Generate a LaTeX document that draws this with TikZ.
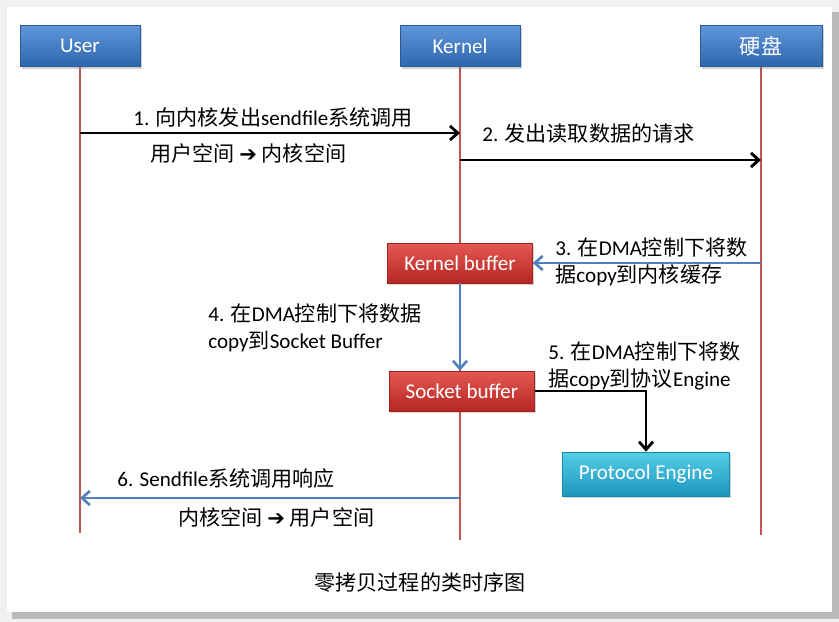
\documentclass[tikz,border=0pt]{standalone}
\usepackage{fontspec}
\setmainfont{Carlito}
\newfontfamily\zhfont{Noto Sans CJK SC}
\newfontfamily\symfont{DejaVu Sans}
\newcommand{\zh}[1]{{\zhfont #1}}
\newcommand{\toarr}{{\symfont ➔}}
\usetikzlibrary{arrows.meta,shadows}

\definecolor{headtop}{RGB}{96,150,218}
\definecolor{headbot}{RGB}{46,102,172}
\definecolor{buftop}{RGB}{228,88,82}
\definecolor{bufbot}{RGB}{182,38,36}
\definecolor{engtop}{RGB}{86,206,230}
\definecolor{engbot}{RGB}{28,150,192}
\definecolor{lifered}{RGB}{196,82,80}
\definecolor{dmablue}{RGB}{79,129,189}

\begin{document}
\begin{tikzpicture}[x=0.02cm,y=-0.02cm,
  font=\fontsize{12}{15}\selectfont,
  box/.style={minimum width=2.4cm,minimum height=0.82cm,text=white,
    draw=#1bot!90!black,top color=#1top,bottom color=#1bot,
    drop shadow={shadow xshift=1pt,shadow yshift=-1.2pt,opacity=0.35}},
  life/.style={draw=lifered,line width=1.5pt},
  call/.style={line width=1.6pt,-{Straight Barb[length=4.5pt,width=8pt]}},
  dma/.style={draw=dmablue,line width=1.5pt,-{Straight Barb[length=4.5pt,width=8pt]}},
  lbl/.style={anchor=west,align=left,inner sep=0pt}]
  \useasboundingbox (0,0) rectangle (839,622);
  \fill[gray!12] (0,0) rectangle (839,622);
  \fill[gray!55] (12,12) rectangle (839,619);
  \fill[white] (7,7) rectangle (832,612);

  \coordinate (userend) at (80,533);
  \coordinate (kernend) at (460,540);
  \coordinate (diskend) at (761,535);
  \draw[life] (80,67) -- (userend);
  \draw[life] (460,67) -- (kernend);
  \draw[life] (761,67) -- (diskend);

  \node[box=head] (user) at (80,46) {User};
  \node[box=head] (kern) at (460,46) {Kernel};
  \node[box=head,minimum width=2.44cm] (disk) at (761,46) {\zh{硬盘}};

  \node[box=buf,minimum width=2.9cm,minimum height=0.8cm] (kbuf) at (460,263) {Kernel buffer};
  \node[box=buf,minimum width=2.9cm,minimum height=0.8cm] (sbuf) at (462,391) {Socket buffer};
  \node[box=eng,minimum width=3.34cm,minimum height=0.88cm] (proto) at (646,474) {Protocol Engine};

  \coordinate (u1) at (80,133);
  \coordinate (k1) at (460,133);
  \coordinate (k2) at (460,160);
  \coordinate (d2) at (761,160);
  \coordinate (d3) at (761,263);
  \coordinate (k6) at (460,498);
  \coordinate (u6) at (80,498);

  \draw[call] (u1) -- (k1);
  \draw[call] (k2) -- (d2);
  \draw[dma] (d3) -- (kbuf.east);
  \draw[dma] (kbuf.south) -- (sbuf.north -| kbuf.south);
  \draw[call] (sbuf.east) -| (proto.north);
  \draw[dma] (k6) -- (u6);

  \node[lbl] (t1) at (133,117) {1. \zh{向内核发出}sendfile\zh{系统调用}};
  \node[lbl] (t1b) at (150,153) {\zh{用户空间} \toarr{} \zh{内核空间}};
  \node[lbl] (t2) at (482,133) {2. \zh{发出读取数据的请求}};
  \node[lbl] (t3) at (555,262) {3. \zh{在}DMA\zh{控制下将数}\\\zh{据}copy\zh{到内核缓存}};
  \node[lbl] (t4) at (208,328) {4. \zh{在}DMA\zh{控制下将数据}\\copy\zh{到}Socket Buffer};
  \node[lbl] (t5) at (548,366) {5. \zh{在}DMA\zh{控制下将数}\\\zh{据}copy\zh{到协议}Engine};
  \node[lbl] (t6) at (117,478) {6. Sendfile\zh{系统调用响应}};
  \node[lbl] (t6b) at (178,517) {\zh{内核空间} \toarr{} \zh{用户空间}};
  \node (cap) at (420,583) {\zh{零拷贝过程的类时序图}};
\end{tikzpicture}
\end{document}
